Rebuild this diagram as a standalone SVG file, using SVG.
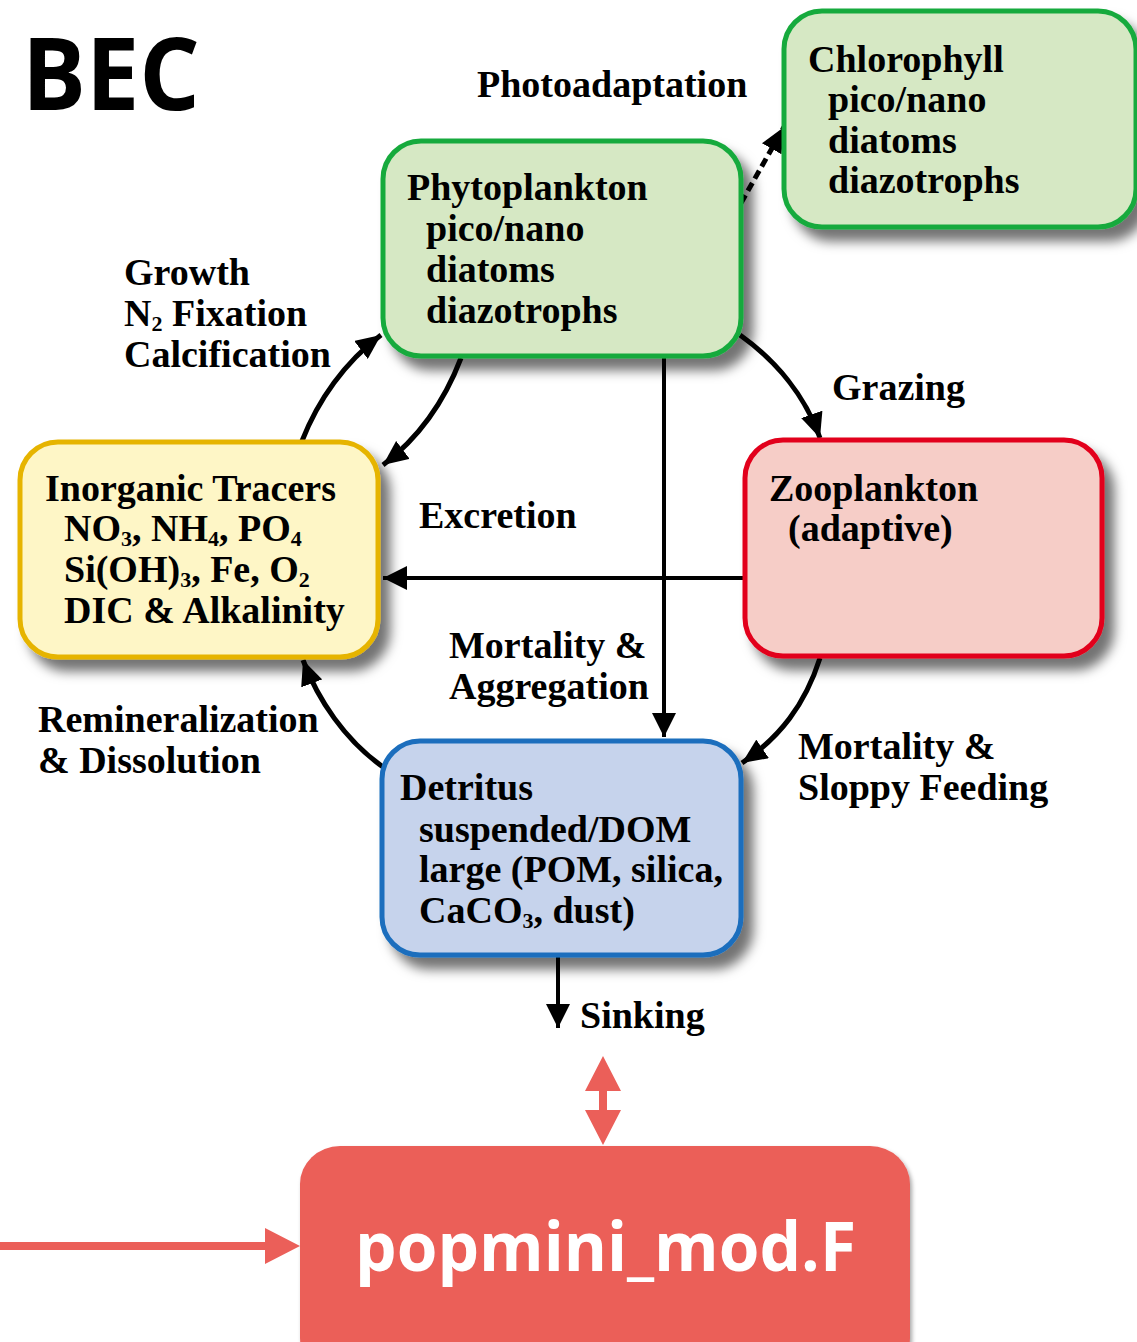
<svg xmlns="http://www.w3.org/2000/svg" width="1137" height="1342" viewBox="0 0 1137 1342">
<defs>
<style>
.t{font-family:"Liberation Serif","Times New Roman",serif;font-weight:bold;font-size:38px;fill:#000}
.s{font-size:22px}
.box{stroke-width:5}
.ln{fill:none;stroke:#000;stroke-width:5}
.ls{fill:none;stroke:#000;stroke-width:4}
</style>
<filter id="sh" x="-20%" y="-20%" width="150%" height="150%">
<feDropShadow dx="10" dy="12" stdDeviation="6" flood-color="#000" flood-opacity="0.55"/>
</filter>
<filter id="sh2" x="-10%" y="-10%" width="120%" height="130%">
<feDropShadow dx="2" dy="3" stdDeviation="2" flood-color="#000" flood-opacity="0.35"/>
</filter>
<marker id="ah" viewBox="0 0 10 9" refX="10" refY="4.5" markerWidth="5" markerHeight="4.5" orient="auto">
<path d="M0,0 L10,4.5 L0,9 z" fill="#000"/>
</marker>
<marker id="ah2" viewBox="0 0 10 10" refX="10" refY="5" markerWidth="6" markerHeight="6" orient="auto">
<path d="M0,0 L10,5 L0,10 z" fill="#000"/>
</marker>
</defs>
<rect width="1137" height="1342" fill="#fff"/>

<text x="22" y="110" font-family="'Open Sans','Noto Sans',sans-serif" font-weight="bold" font-size="100" textLength="178" lengthAdjust="spacingAndGlyphs">BEC</text>

<g id="connectors">
<path class="ln" d="M302,441 C318,400 345,362 381,335" marker-end="url(#ah)"/>
<path class="ln" d="M461,358 C445,400 420,437 383,465" marker-end="url(#ah)"/>
<path class="ln" d="M740,335 C775,360 805,395 820,438" marker-end="url(#ah)"/>
<path class="ln" d="M820,658 C805,705 780,737 742,763" marker-end="url(#ah)"/>
<path class="ln" d="M383,767 C345,740 318,700 303,660" marker-end="url(#ah)"/>
<path class="ls" d="M743,578 L383,578" marker-end="url(#ah2)"/>
<path class="ls" d="M664,358 L664,737" marker-end="url(#ah2)"/>
<path class="ls" d="M558,957 L558,1028" marker-end="url(#ah2)"/>
<path fill="none" stroke="#000" stroke-width="5" stroke-dasharray="9 5" d="M741,203 L784,127" marker-end="url(#ah)"/>
<polygon fill="#eb5f59" points="603,1056 621,1091 607,1091 607,1110 621,1110 603,1145 585,1110 599,1110 599,1091 585,1091"/>
<polygon fill="#eb5f59" points="0,1242 265,1242 265,1228 300,1246 265,1264 265,1250 0,1250"/>
</g>

<g id="chlorophyll">
<rect class="box" x="784" y="11" width="352" height="216" rx="38" fill="#d6e8c4" stroke="#18aa3e" filter="url(#sh)"/>
<text class="t" x="808" y="72">Chlorophyll</text>
<text class="t" x="828" y="112">pico/nano</text>
<text class="t" x="828" y="153">diatoms</text>
<text class="t" x="828" y="193">diazotrophs</text>
</g>

<g id="phytoplankton">
<rect class="box" x="383" y="141" width="358" height="215" rx="38" fill="#d6e8c4" stroke="#18aa3e" filter="url(#sh)"/>
<text class="t" x="407" y="200">Phytoplankton</text>
<text class="t" x="426" y="241">pico/nano</text>
<text class="t" x="426" y="282">diatoms</text>
<text class="t" x="426" y="323">diazotrophs</text>
</g>

<g id="inorganic">
<rect class="box" x="20" y="442" width="358" height="215" rx="38" fill="#fef6c6" stroke="#e6b400" filter="url(#sh)"/>
<text class="t" x="45" y="501">Inorganic Tracers</text>
<text class="t" x="64" y="541">NO<tspan class="s" dy="5">3</tspan><tspan dy="-5">, NH</tspan><tspan class="s" dy="5">4</tspan><tspan dy="-5">, PO</tspan><tspan class="s" dy="5">4</tspan></text>
<text class="t" x="64" y="582">Si(OH)<tspan class="s" dy="5">3</tspan><tspan dy="-5">, Fe, O</tspan><tspan class="s" dy="5">2</tspan></text>
<text class="t" x="64" y="623">DIC &amp; Alkalinity</text>
</g>

<g id="zooplankton">
<rect class="box" x="745" y="440" width="357" height="216" rx="38" fill="#f6cdc7" stroke="#e2001a" filter="url(#sh)"/>
<text class="t" x="769" y="501">Zooplankton</text>
<text class="t" x="788" y="541">(adaptive)</text>
</g>

<g id="detritus">
<rect class="box" x="382" y="741" width="359" height="214" rx="38" fill="#c6d3ec" stroke="#1a6ebd" filter="url(#sh)"/>
<text class="t" x="400" y="800">Detritus</text>
<text class="t" x="419" y="842">suspended/DOM</text>
<text class="t" x="419" y="882">large (POM, silica,</text>
<text class="t" x="419" y="923">CaCO<tspan class="s" dy="5">3</tspan><tspan dy="-5">, dust)</tspan></text>
</g>

<g id="labels">
<text class="t" x="477" y="97">Photoadaptation</text>
<text class="t" x="124" y="285">Growth</text>
<text class="t" x="124" y="326">N<tspan class="s" dy="5">2</tspan><tspan dy="-5"> Fixation</tspan></text>
<text class="t" x="124" y="367">Calcification</text>
<text class="t" x="832" y="400">Grazing</text>
<text class="t" x="419" y="528">Excretion</text>
<text class="t" x="449" y="658">Mortality &amp;</text>
<text class="t" x="449" y="699">Aggregation</text>
<text class="t" x="38" y="732">Remineralization</text>
<text class="t" x="38" y="773">&amp; Dissolution</text>
<text class="t" x="798" y="759">Mortality &amp;</text>
<text class="t" x="798" y="800">Sloppy Feeding</text>
<text class="t" x="580" y="1028">Sinking</text>
</g>

<g id="popmini">
<rect x="300" y="1146" width="610" height="230" rx="40" ry="38" fill="#eb5f59" filter="url(#sh2)"/>
<text x="355" y="1271" font-family="'Open Sans','Noto Sans',sans-serif" font-weight="bold" font-size="68" fill="#fff" textLength="501" lengthAdjust="spacingAndGlyphs">popmini_mod.F</text>
</g>
</svg>
